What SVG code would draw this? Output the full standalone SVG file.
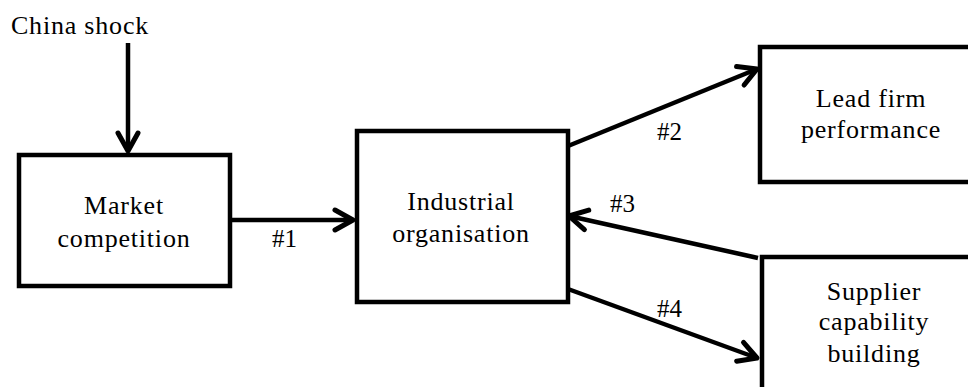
<svg xmlns="http://www.w3.org/2000/svg" width="968" height="387" viewBox="0 0 968 387">
<style>
.box{fill:#fff;stroke:#000;stroke-width:4.5;stroke-linejoin:miter}
.t{font-size:26px;letter-spacing:0.8px;fill:#000;text-anchor:middle}
.lbl{font-size:25px;fill:#000}
.c{stroke:#000;stroke-width:4.5;fill:none}
</style>
<defs>
<marker id="ah" markerUnits="userSpaceOnUse" markerWidth="30" markerHeight="30" refX="0" refY="0" orient="auto" overflow="visible" viewBox="-25 -15 30 30">
<path d="M-18,-10 L0,0 L-18,10" fill="none" stroke="#000" stroke-width="5" stroke-linecap="round" stroke-linejoin="round"/>
</marker>
</defs>
<rect width="968" height="387" fill="#fff"/>
<g font-family="'Liberation Serif', 'Times New Roman', Times, serif">
<g id="china-shock">
<text class="t" x="80" y="34">China shock</text>
</g>
<g id="market-competition">
<rect class="box" x="19" y="155" width="211" height="131"/>
<text class="t" x="124" y="214">Market</text>
<text class="t" x="124" y="247">competition</text>
</g>
<g id="industrial-organisation">
<rect class="box" x="357" y="131" width="211" height="171"/>
<text class="t" x="461" y="210">Industrial</text>
<text class="t" x="461" y="242">organisation</text>
</g>
<g id="lead-firm-performance">
<rect class="box" x="760" y="47" width="230" height="135"/>
<text class="t" x="871" y="107">Lead firm</text>
<text class="t" x="871" y="138">performance</text>
</g>
<g id="supplier-capability-building">
<rect class="box" x="762" y="257" width="230" height="150"/>
<text class="t" x="874" y="300">Supplier</text>
<text class="t" x="874" y="330">capability</text>
<text class="t" x="874" y="362">building</text>
</g>
<g id="connectors">
<line class="c" x1="128" y1="43" x2="128" y2="151" marker-end="url(#ah)"/>
<line class="c" x1="231" y1="220" x2="353" y2="220" marker-end="url(#ah)"/>
<line class="c" x1="568" y1="146" x2="757" y2="69" marker-end="url(#ah)"/>
<line class="c" x1="758" y1="258" x2="569" y2="216" marker-end="url(#ah)"/>
<line class="c" x1="568" y1="289" x2="757" y2="358" marker-end="url(#ah)"/>
<text class="lbl" x="272" y="247">#1</text>
<text class="lbl" x="657" y="140">#2</text>
<text class="lbl" x="610" y="212">#3</text>
<text class="lbl" x="657" y="317">#4</text>
</g>
</g>
</svg>
